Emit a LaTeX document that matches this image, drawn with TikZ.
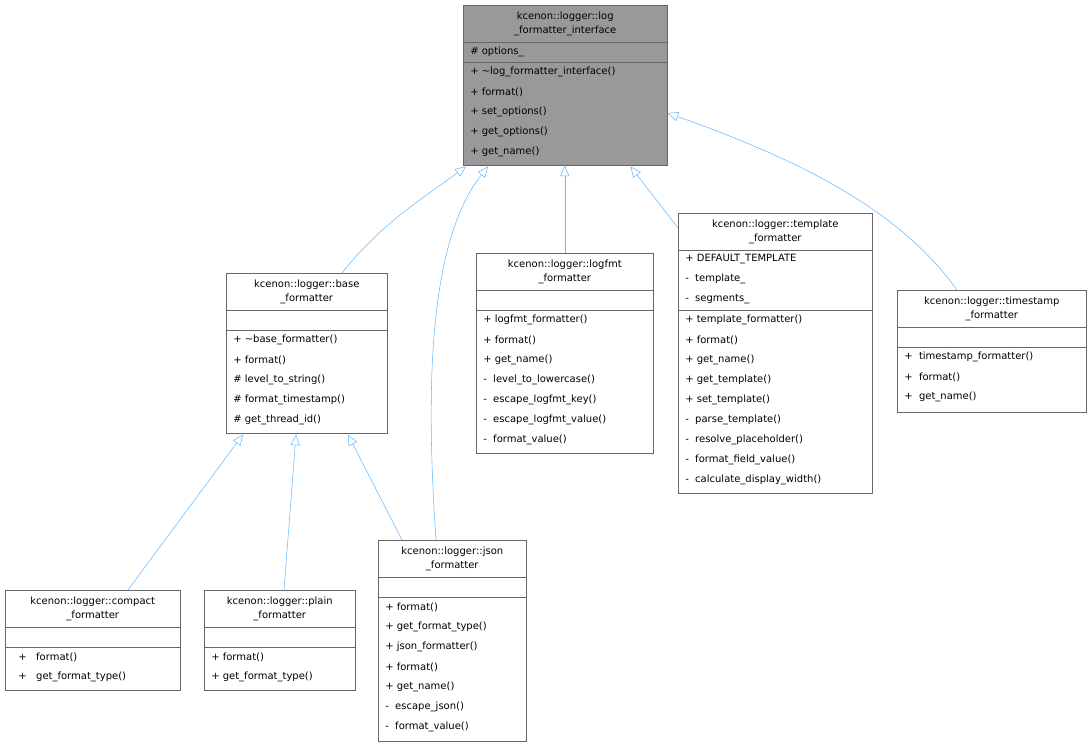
\documentclass[tikz,border=0pt]{standalone}
\usepackage{fontspec}
\setmainfont{DejaVu Sans}
\usetikzlibrary{arrows.meta,calc}
\definecolor{edgeblue}{RGB}{99,184,255}
\definecolor{boxgray}{RGB}{153,153,153}

% class box: [style]{name}{x}{y}{w}{h}{first rule}{second rule}
\newcommand\umlbox[8][]{%
  \node[cls,#1,minimum width={#5*0.75pt},minimum height={#6*0.75pt}] (#2) at (#3,#4) {};
  \draw[sepline] (#3,#4+#7) -- ++(#5,0);
  \draw[sepline] (#3,#4+#8) -- ++(#5,0);
}
% member lines, 20px apart
\newcommand\members[3]{%
  \foreach[count=\k] \m in {#3} \node[mem] at (#1,{#2+(\k-1)*20}) {\m};
}

\begin{document}
\begin{tikzpicture}[x=0.75pt,y=-0.75pt,
  cls/.style={draw=black!60,fill=white,anchor=north west,inner sep=0},
  sepline/.style={draw=black!60},
  ttl/.style={font=\fontsize{7.5}{10.5}\selectfont,align=center,inner sep=0},
  mem/.style={font=\fontsize{7.5}{9}\selectfont,anchor=west,inner sep=0},
  inherit/.style={draw=edgeblue,-{Triangle[open,length=8pt,width=7pt]}}]

\useasboundingbox (0,0) rectangle (1091,747);

% classes
\umlbox[fill=boxgray]{iface}{463}{5}{204}{160}{37}{57}
\node[ttl] at ($(iface.north)+(0,19)$) {kcenon::logger::log\\\_formatter\_interface};
\members{470}{52}{\# options\_}
\members{470}{72}{+ \textasciitilde log\_formatter\_interface(),+ format(),+ set\_options(),+ get\_options(),+ get\_name()}

\umlbox{base}{226}{273}{161}{160}{37}{57}
\node[ttl] at ($(base.north)+(0,19)$) {kcenon::logger::base\\\_formatter};
\members{233}{340}{+ \textasciitilde base\_formatter(),+ format(),\# level\_to\_string(),\# format\_timestamp(),\# get\_thread\_id()}

\umlbox{logfmt}{476}{253}{177}{200}{37}{57}
\node[ttl] at ($(logfmt.north)+(0,19)$) {kcenon::logger::logfmt\\\_formatter};
\members{483}{320}{+ logfmt\_formatter(),+ format(),+ get\_name(),-\ \ level\_to\_lowercase(),-\ \ escape\_logfmt\_key(),-\ \ escape\_logfmt\_value(),-\ \ format\_value()}

\umlbox{template}{678}{213}{194}{280}{37}{97}
\node[ttl] at ($(template.north)+(0,19)$) {kcenon::logger::template\\\_formatter};
\members{685}{259}{+ DEFAULT\_TEMPLATE,-\ \ template\_,-\ \ segments\_}
\members{685}{320}{+ template\_formatter(),+ format(),+ get\_name(),+ get\_template(),+ set\_template(),-\ \ parse\_template(),-\ \ resolve\_placeholder(),-\ \ format\_field\_value(),-\ \ calculate\_display\_width()}

\umlbox{timestamp}{897}{290}{189}{122}{37}{57}
\node[ttl] at ($(timestamp.north)+(0,19)$) {kcenon::logger::timestamp\\\_formatter};
\members{904}{357}{+\ \ timestamp\_formatter(),+\ \ format(),+\ \ get\_name()}

\umlbox{compact}{5}{590}{175}{100}{37}{57}
\node[ttl] at ($(compact.north)+(0,19)$) {kcenon::logger::compact\\\_formatter};
\members{18}{657}{+\ \ \ format(),+\ \ \ get\_format\_type()}

\umlbox{plain}{204}{590}{151}{100}{37}{57}
\node[ttl] at ($(plain.north)+(0,19)$) {kcenon::logger::plain\\\_formatter};
\members{211}{657}{+ format(),+ get\_format\_type()}

\umlbox{json}{378}{540}{148}{201}{37}{57}
\node[ttl] at ($(json.north)+(0,19)$) {kcenon::logger::json\\\_formatter};
\members{385}{607}{+ format(),+ get\_format\_type(),+ json\_formatter(),+ format(),+ get\_name(),-\ \ escape\_json(),-\ \ format\_value()}

% inheritance
\draw[inherit] ($(base.north west)+(116,0)$) .. controls (380,225) and (420,200) .. ($(iface.south west)+(3,1)$);
\draw[inherit] ($(json.north west)+(58,0)$) .. controls (425,380) and (430,240) .. ($(iface.south west)+(25,1)$);
\draw[inherit] (logfmt.north) -- (logfmt.north |- iface.south);
\draw[inherit] ($(template.north west)+(0,15)$) -- ($(iface.south east)+(-37,1)$);
\draw[inherit] ($(timestamp.north west)+(60,0)$) .. controls (900,210) and (800,160) .. ($(iface.north east)+(0,108)$);
\draw[inherit] ($(compact.north west)+(123,0)$) -- ($(base.south west)+(17,1)$);
\draw[inherit] ($(plain.north west)+(80,0)$) -- ($(base.south west)+(70,1)$);
\draw[inherit] ($(json.north west)+(24,0)$) -- ($(base.south west)+(122,1)$);

\end{tikzpicture}
\end{document}
